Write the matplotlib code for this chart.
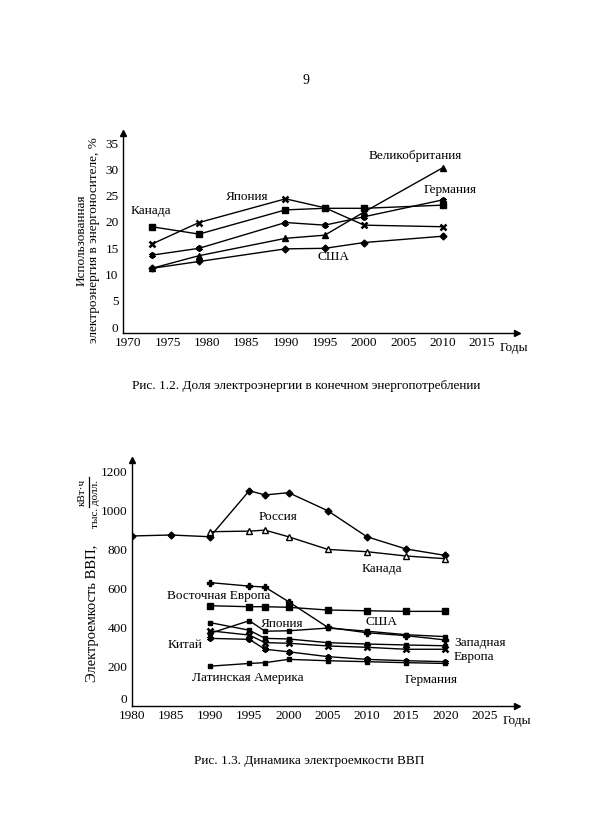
import matplotlib.pyplot as plt
from matplotlib.lines import Line2D
from matplotlib.transforms import ScaledTranslation

plt.rcParams['font.family'] = ['Liberation Serif', 'DejaVu Serif']

W, H = 600, 835

# Рис. 1.2 - доля электроэнергии, %
years_a = [1973, 1979, 1990, 1995, 2000, 2010]
canada_a = [19.1, 17.7, 22.3, 22.6, 22.6, 23.2]
japan_a = [15.8, 19.9, 24.4, 22.7, 19.4, 19.1]
germany_a = [13.7, 15.0, 19.9, 19.4, 21.0, 24.2]
uk_a = [11.2, 13.6, 16.9, 17.5, 21.9, 30.3]
usa_a = [11.2, 12.5, 14.9, 15.0, 16.1, 17.3]
xticks_a = [1970, 1975, 1980, 1985, 1990, 1995, 2000, 2005, 2010, 2015]
yticks_a = [0, 5, 10, 15, 20, 25, 30, 35]

# Рис. 1.3 - электроемкость ВВП, кВт*ч / тыс. долл.
years_rus = [1980, 1985, 1990, 1995, 1997, 2000, 2005, 2010, 2015, 2020]
russia = [870, 875, 866, 1103, 1081, 1093, 1000, 866, 803, 770]
years_b = [1990, 1995, 1997, 2000, 2005, 2010, 2015, 2020]
canada_b = [892, 895, 900, 866, 801, 789, 767, 753]
east_eu = [630, 612, 607, 532, 400, 372, 357, 335]
usa_b = [511, 506, 506, 503, 489, 485, 482, 482]
japan_b = [369, 434, 380, 382, 396, 380, 362, 352]
west_eu = [424, 385, 343, 340, 321, 314, 309, 305]
china = [382, 360, 321, 318, 304, 297, 287, 287]
germany_b = [343, 338, 287, 274, 249, 235, 228, 223]
latam = [200, 214, 218, 235, 228, 223, 218, 214]
xticks_b = [1980, 1985, 1990, 1995, 2000, 2005, 2010, 2015, 2020, 2025]
yticks_b = [0, 200, 400, 600, 800, 1000, 1200]


def rect(x0, y_top, x1, y_bot):
    return [x0 / W, 1 - y_bot / H, (x1 - x0) / W, (y_bot - y_top) / H]


def txt(x, y, s, **kw):
    kw.setdefault('fontsize', 9.5)
    kw.setdefault('ha', 'center')
    kw.setdefault('va', 'center')
    fig.text(x / W, 1 - y / H, s, **kw)


def style_axes(ax):
    for s in ['top', 'right']:
        ax.spines[s].set_visible(False)
    for s in ['left', 'bottom']:
        ax.spines[s].set_linewidth(1.0)
    ax.tick_params(length=0, labelsize=9.5)
    ax.tick_params(axis='x', pad=3)
    ax.tick_params(axis='y', pad=3)
    ax.plot([1], [0], marker='>', color='k', ms=4, transform=ax.transAxes, clip_on=False)
    ax.plot([0], [1], marker='^', color='k', ms=4, transform=ax.transAxes, clip_on=False)


fig = plt.figure(figsize=(6, 8.35), dpi=100)

txt(306, 80, '9', fontsize=10)

# ---- верхний график
ax1 = fig.add_axes(rect(122.7, 133, 516.7, 333))
kw = dict(color='k', lw=1.0, ms=4.5)
ax1.plot(years_a, canada_a, marker='s', **kw)
ax1.plot(years_a, japan_a, marker='x', mew=1.8, **kw)
ax1.plot(years_a, germany_a, marker=(6, 2, 0), mew=1.5, **kw)
ax1.plot(years_a, uk_a, marker='^', **kw)
ax1.plot(years_a, usa_a, marker='D', markersize=3.5, color='k', lw=1.0)
ax1.set_xlim(1969.3, 2019.4)
ax1.set_ylim(-1.08, 36.9)
ax1.set_xticks(xticks_a)
ax1.set_yticks(yticks_a)
style_axes(ax1)

txt(150.7, 210.7, 'Канада')
txt(246.7, 197.3, 'Япония')
txt(415, 156, 'Великобритания')
txt(450, 190, 'Германия')
txt(333.3, 257.3, 'США')
txt(514, 348, 'Годы')
txt(88, 240, 'Использованная\nэлектроэнергия в энергоносителе, %',
    rotation=90, multialignment='center', linespacing=1.05, fontsize=9.5)
txt(306, 386, 'Рис. 1.2. Доля электроэнергии в конечном энергопотреблении', fontsize=9.5)

# ---- нижний график
ax2 = fig.add_axes(rect(131.7, 460, 516.7, 706))
ax2.plot(years_rus, russia, marker='D', markersize=3.5, color='k', lw=1.0)
ax2.plot(years_b, canada_b, marker='^', mfc='white', **kw)
ax2.plot(years_b, east_eu, marker='P', markersize=5, color='k', lw=1.0)
ax2.plot(years_b, usa_b, marker='s', **kw)
ax2.plot(years_b, japan_b, marker='s', markersize=3, color='k', lw=1.0)
ax2.plot(years_b, west_eu, marker='s', markersize=3.5, color='k', lw=1.0)
ax2.plot(years_b, china, marker='x', mew=1.8, **kw)
ax2.plot(years_b, germany_b, marker=(6, 2, 0), mew=1.5, **kw)
ax2.plot(years_b, latam, marker='s', markersize=3.5, color='k', lw=1.0)
ax2.set_xlim(1980, 2029.1)
ax2.set_ylim(-5, 1261)
ax2.set_xticks(xticks_b)
ax2.set_yticks(yticks_b)
style_axes(ax2)
# метка "0" в оригинале приподнята над осью
zero_lab = ax2.get_yticklabels()[0]
zero_lab.set_transform(zero_lab.get_transform() + ScaledTranslation(0, 7 / 100, fig.dpi_scale_trans))

txt(278.3, 517.3, 'Россия')
txt(381.7, 569, 'Канада')
txt(218.3, 596, 'Восточная Европа')
txt(381.7, 621.7, 'США')
txt(281.7, 624, 'Япония')
txt(185, 645, 'Китай')
txt(454, 642.7, 'Западная', ha='left')
txt(454, 656.7, 'Европа', ha='left')
txt(430.7, 680, 'Германия')
txt(248.3, 677.7, 'Латинская Америка')
txt(517, 720.7, 'Годы')

txt(92.5, 613, 'Электроемкость ВВП,', rotation=90, fontsize=10.5)
txt(82, 492, 'кВт·ч', rotation=90, fontsize=8)
txt(95, 504.5, 'тыс. долл.', rotation=90, fontsize=8)
fig.add_artist(Line2D([88.5 / W, 88.5 / W], [1 - 477 / H, 1 - 507 / H],
                      color='k', lw=0.9, transform=fig.transFigure))

txt(309, 760.7, 'Рис. 1.3. Динамика электроемкости ВВП', fontsize=9.5)

fig.savefig('out.png', dpi=100)
